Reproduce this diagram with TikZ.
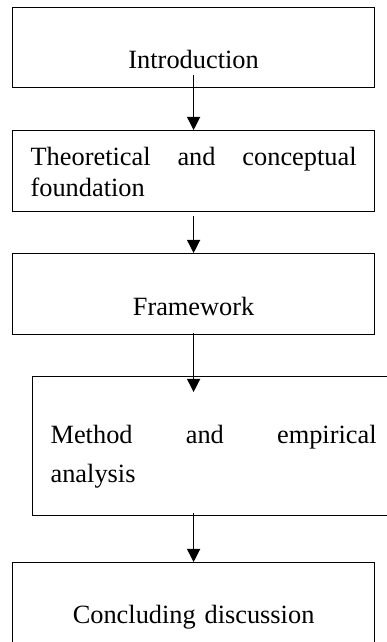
\documentclass[tikz,border=0pt]{standalone}
\usepackage{fontspec}
\setmainfont{Liberation Serif}
\usetikzlibrary{arrows.meta, positioning, calc}

\begin{document}
\begin{tikzpicture}[
  stagebox/.style={draw, line width=0.55pt, anchor=north west, inner xsep=0.288cm, inner ysep=0pt,
    text width=5.216cm, font=\fontsize{12}{14}\selectfont, align=center},
  flow/.style={line width=0.55pt, -{Triangle[width=6pt, length=6pt]}}
]
  \useasboundingbox (0, 0) rectangle (6.176, -10.272);

  \node[stagebox, text height=0.976cm, text depth=0.304cm] (intro) at (0.192, -0.112) {Introduction};
  \node[stagebox, align=justify, text height=0.56cm, text depth=0.736cm] (theory) at (0.192, -2.08) {Theoretical and conceptual\linebreak foundation};
  \node[stagebox, text height=0.992cm, text depth=0.304cm] (frame) at (0.192, -4.048) {Framework};
  \node[stagebox, align=justify, font=\fontsize{12}{17.8}\selectfont, text height=1.072cm, text depth=1.152cm] (method) at (0.512, -6.016) {Method and empirical\linebreak analysis};
  \node[stagebox, text height=0.976cm, text depth=0.352cm] (concl) at (0.192, -8.992) {Concluding discussion};

  \draw[flow] ([yshift=0.208cm]intro.south) -- (theory.north);
  \draw[flow] ([yshift=-0.064cm]theory.south) -- (frame.north);
  \draw[flow] ([yshift=0.032cm]frame.south) -- ([yshift=-0.256cm]frame.south |- method.north);
  \draw[flow] ([yshift=0.048cm]concl.north |- method.south) -- (concl.north);
\end{tikzpicture}
\end{document}
